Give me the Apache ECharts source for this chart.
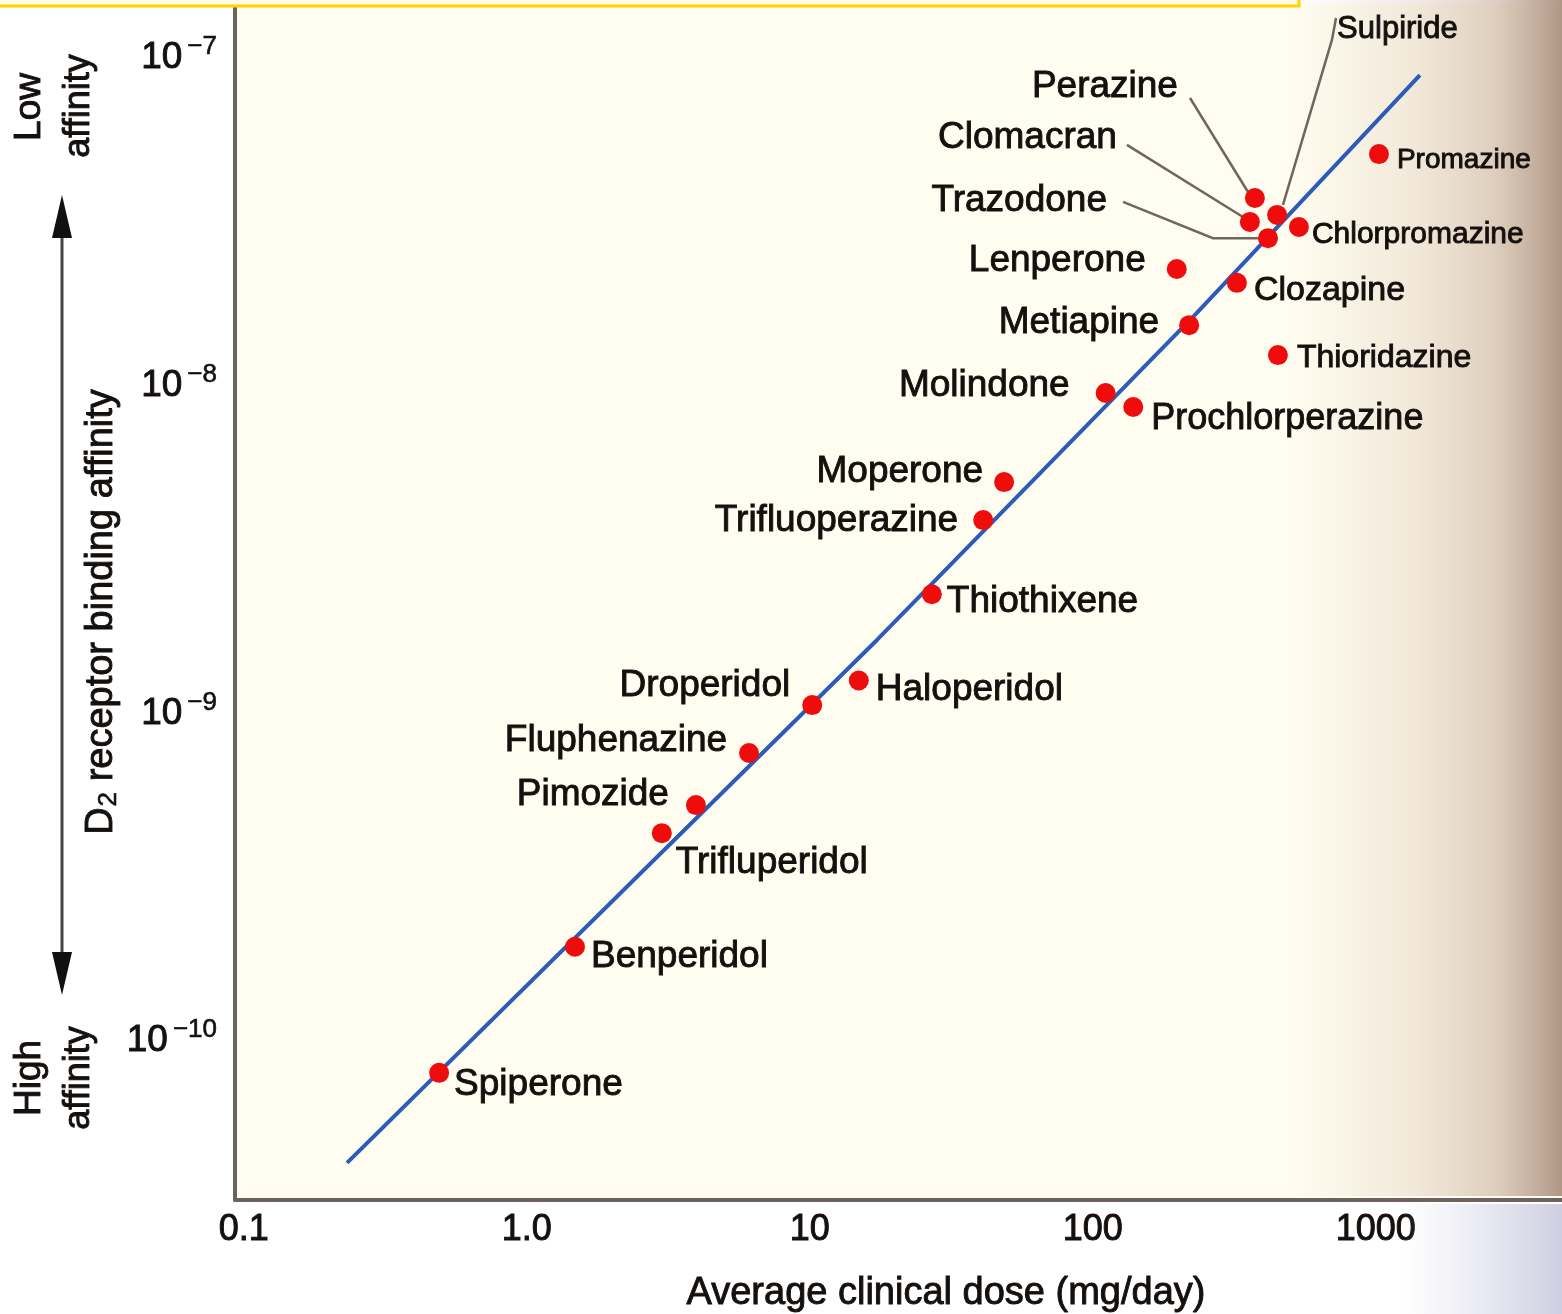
<!DOCTYPE html>
<html>
<head>
<meta charset="utf-8">
<script src="https://cdn.jsdelivr.net/npm/echarts@6/dist/echarts.min.js"></script>
<style>
html,body{margin:0;padding:0;background:#ffffff;}
#chart{width:1562px;height:1314px;}
</style>
</head>
<body>
<div id="chart"></div>
<script>
// ---------- data ----------
const drugs = ['Spiperone','Benperidol','Trifluperidol','Pimozide','Fluphenazine','Droperidol',
  'Haloperidol','Thiothixene','Trifluoperazine','Moperone','Molindone','Prochlorperazine',
  'Metiapine','Lenperone','Clozapine','Thioridazine','Chlorpromazine','Promazine',
  'Perazine','Clomacran','Trazodone','Sulpiride'];
// average clinical dose (mg/day)
const dose = [0.49, 1.48, 3.0, 3.96, 6.1, 10.2,
  14.9, 27, 41, 48.6, 111, 139,
  219, 198, 323, 451, 535, 1026,
  374, 359, 416, 448];
// D2 receptor binding affinity (M)
const affinity = [8.0e-11, 1.94e-10, 4.31e-10, 5.25e-10, 7.57e-10, 1.06e-9,
  1.26e-9, 2.31e-9, 3.89e-9, 5.08e-9, 9.5e-9, 8.61e-9,
  1.53e-8, 2.27e-8, 2.06e-8, 1.24e-8, 3.05e-8, 5.09e-8,
  3.74e-8, 3.16e-8, 2.82e-8, 3.32e-8];
// regression line as drawn
const lineDose = [0.2316, 17.28, 229.7, 1432];
const lineAffinity = [4.25e-11, 1.675e-9, 1.644e-8, 8.87e-8];
// leader lines for the crowded cluster
const leaderNames = ['Perazine','Clomacran','Trazodone','Sulpiride'];
const leaderDose = [[220.6, 353.5], [132, 339.4], [127.9, 265.9, 383.5], [723.6, 700, 470]];
const leaderAffinity = [[7.55e-8, 3.90e-8], [5.43e-8, 3.27e-8], [3.64e-8, 2.82e-8, 2.82e-8], [1.324e-7, 1.135e-7, 3.56e-8]];
// axis ticks
const xTickLabels = ['0.1', '1.0', '10', '100', '1000'];
const yTickExponents = [-10, -9, -8, -7];
const xTitle = 'Average clinical dose (mg/day)';
const yTitleParts = ['D', '2', ' receptor binding affinity'];

// ---------- label placement (style / layout only) ----------
const labelPlace = {
  Spiperone: ['right', 5, 12], Benperidol: ['right', 6, 10], Trifluperidol: ['right', 4, 30],
  Pimozide: ['left', -17, -10], Fluphenazine: ['left', -12, -12], Droperidol: ['left', -12, -19],
  Haloperidol: ['right', 7, 9], Thiothixene: ['right', 5, 8], Trifluoperazine: ['left', -15, 1],
  Moperone: ['left', -11, -10], Molindone: ['left', -26, -7], Prochlorperazine: ['right', 8, 12],
  Metiapine: ['left', -20, -2], Lenperone: ['left', -21, -8], Clozapine: ['right', 7, 8],
  Thioridazine: ['right', 9, 3], Chlorpromazine: ['right', 3, 8], Promazine: ['right', 8, 6],
  Perazine: ['left', -67, -111], Clomacran: ['left', -123, -84], Trazodone: ['left', -151, -37],
  Sulpiride: ['right', 50, -185]
};
const labelSize = {Promazine: 28, Chlorpromazine: 30, Thioridazine: 32, Clozapine: 34, Sulpiride: 31, Prochlorperazine: 36};

const FONT = "'Liberation Sans', Arial, Helvetica, sans-serif";
const INK = '#14100e';
const BOLDEN = 0.9;

const pointData = drugs.map((n, i) => {
  const p = labelPlace[n];
  return {
    name: n,
    value: [dose[i], affinity[i]],
    label: {position: p[0], offset: [p[1], p[2]], fontSize: labelSize[n] || 37}
  };
});

const lineData = lineDose.map((d, i) => [d, lineAffinity[i]]);
const leaderData = leaderNames.map((n, k) => ({
  name: n,
  coords: leaderDose[k].map((d, j) => [d, leaderAffinity[k][j]])
}));

function isPow10(v) {
  const l = Math.log10(v);
  return Math.abs(l - Math.round(l)) < 1e-6;
}

function noteText(x, y, text, size) {
  return {
    type: 'text', z: 10, x: x, y: y, rotation: Math.PI / 2,
    style: {text: text, font: size + 'px ' + FONT, fill: INK, stroke: INK, lineWidth: BOLDEN,
      align: 'center', verticalAlign: 'middle'}
  };
}

const chart = echarts.init(document.getElementById('chart'), null, {renderer: 'canvas'});

const option = {
  backgroundColor: '#ffffff',
  animation: false,
  textStyle: {fontFamily: FONT},
  grid: {
    left: 235, right: 0, top: 5, bottom: 114,
    show: true, backgroundColor: '#fffdf0', borderWidth: 0,
    containLabel: false, outerBoundsMode: 'none'
  },
  xAxis: {
    type: 'log', logBase: 10,
    min: 0.0931, max: 4550,
    axisLine: {onZero: false, lineStyle: {color: '#6d625d', width: 4}},
    axisTick: {show: false},
    minorTick: {show: false},
    splitLine: {show: false},
    axisLabel: {
      margin: 12, fontSize: 36, color: INK, fontFamily: FONT,
      textBorderColor: INK, textBorderWidth: BOLDEN,
      formatter: v => isPow10(v) ? xTickLabels[Math.round(Math.log10(v)) + 1] : ''
    }
  },
  yAxis: {
    type: 'log', logBase: 10,
    min: 3.274e-11, max: 1.451e-7,
    axisLine: {onZero: false, lineStyle: {color: '#6d625d', width: 4}},
    axisTick: {show: false},
    minorTick: {show: false},
    splitLine: {show: false},
    axisLabel: {
      margin: 18, color: INK, fontFamily: FONT,
      formatter: v => {
        if (!isPow10(v)) return '';
        const e = Math.round(Math.log10(v));
        if (yTickExponents.indexOf(e) < 0) return '';
        return '{b|10}{s|\u2212' + (-e) + '}';
      },
      rich: {
        b: {fontSize: 37, color: INK, fontFamily: FONT, textBorderColor: INK, textBorderWidth: BOLDEN},
        s: {fontSize: 26, color: INK, fontFamily: FONT, padding: [0, 0, 22, 5], textBorderColor: INK, textBorderWidth: 0.6}
      }
    }
  },
  series: [
    {
      name: 'Regression',
      type: 'line',
      data: lineData,
      symbol: 'none',
      smooth: false,
      z: 2,
      lineStyle: {color: '#2c5cb8', width: 4},
      silent: true
    },
    {
      name: 'Leaders',
      type: 'lines',
      coordinateSystem: 'cartesian2d',
      polyline: true,
      data: leaderData,
      z: 3,
      lineStyle: {color: '#6e665f', width: 2.5, opacity: 1},
      silent: true
    },
    {
      name: 'Drugs',
      type: 'scatter',
      data: pointData,
      symbol: 'circle',
      symbolSize: 20,
      z: 4,
      itemStyle: {color: '#ee0c0c', opacity: 1},
      label: {
        show: true,
        formatter: '{b}',
        distance: 0,
        color: INK,
        fontFamily: FONT,
        fontSize: 37,
        textBorderColor: INK,
        textBorderWidth: BOLDEN
      }
    }
  ],
  graphic: [
    // scanned page edge shading
    {
      type: 'rect', z: 1, silent: true,
      shape: {x: 1290, y: 0, width: 272, height: 1196},
      style: {
        fill: new echarts.graphic.LinearGradient(0, 0, 1, 0, [
          {offset: 0, color: 'rgba(215,190,170,0)'},
          {offset: 0.45, color: 'rgba(214,190,170,0.32)'},
          {offset: 0.75, color: 'rgba(196,168,148,0.55)'},
          {offset: 1, color: 'rgba(158,128,110,0.82)'}
        ])
      }
    },
    {
      type: 'rect', z: 1, silent: true,
      shape: {x: 1400, y: 1204, width: 162, height: 110},
      style: {
        fill: new echarts.graphic.LinearGradient(0, 0, 1, 0, [
          {offset: 0, color: 'rgba(205,205,228,0)'},
          {offset: 1, color: 'rgba(185,185,212,0.7)'}
        ])
      }
    },
    // yellow box at the top
    {
      type: 'rect', z: 20, silent: true,
      shape: {x: -3, y: -20, width: 1302, height: 26},
      style: {fill: '#fffbe4', stroke: '#ffd200', lineWidth: 3}
    },
    // double arrow
    {
      type: 'line', z: 10, silent: true,
      shape: {x1: 62, y1: 225, x2: 62, y2: 965},
      style: {stroke: '#4a4542', lineWidth: 3}
    },
    {
      type: 'polygon', z: 10, silent: true,
      shape: {points: [[62, 195], [52, 238], [72, 238]]},
      style: {fill: '#111111'}
    },
    {
      type: 'polygon', z: 10, silent: true,
      shape: {points: [[62, 995], [52, 952], [72, 952]]},
      style: {fill: '#111111'}
    },
    // side notes
    noteText(30, 107, 'Low', 37),
    noteText(79, 106, 'affinity', 36),
    noteText(30, 1078, 'High', 37),
    noteText(79, 1078, 'affinity', 36),
    // axis titles
    {
      type: 'text', z: 10, x: 102, y: 612, rotation: Math.PI / 2,
      style: {
        text: '{t|' + yTitleParts[0] + '}{sub|' + yTitleParts[1] + '}{t|' + yTitleParts[2] + '}',
        align: 'center', verticalAlign: 'middle',
        fill: INK, stroke: INK, lineWidth: BOLDEN,
        font: '38px ' + FONT,
        rich: {
          t: {font: '38px ' + FONT, fill: INK, stroke: INK, lineWidth: BOLDEN},
          sub: {font: '26px ' + FONT, fill: INK, stroke: INK, lineWidth: 0.6, padding: [14, 0, 0, 1]}
        }
      }
    },
    {
      type: 'text', z: 10, x: 946, y: 1294,
      style: {text: xTitle, font: '38px ' + FONT, fill: INK, stroke: INK, lineWidth: BOLDEN,
        align: 'center', verticalAlign: 'middle'}
    }
  ]
};

chart.setOption(option);
</script>
</body>
</html>
